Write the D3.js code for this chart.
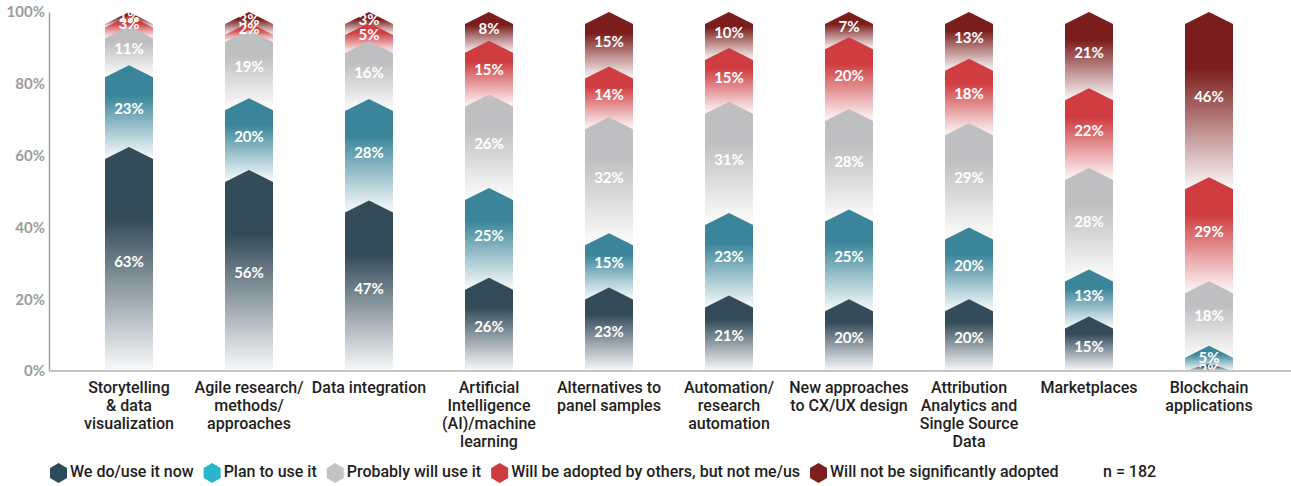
<!DOCTYPE html>
<html>
<head>
<meta charset="utf-8">
<script src="https://cdn.jsdelivr.net/npm/d3@7"></script>
<style>
  body { margin: 0; background: #fff; }
  svg { display: block; }
</style>
</head>
<body>
<div id="chart"></div>
<script>
// categories (line breaks as in the picture)
const categories = [
  'Storytelling\n& data\nvisualization',
  'Agile research/\nmethods/\napproaches',
  'Data integration',
  'Artificial\nIntelligence\n(AI)/machine\nlearning',
  'Alternatives to\npanel samples',
  'Automation/\nresearch\nautomation',
  'New approaches\nto CX/UX design',
  'Attribution\nAnalytics and\nSingle Source\nData',
  'Marketplaces',
  'Blockchain\napplications'
];

// series values (%)
const weDo = [63, 56, 47, 26, 23, 21, 20, 20, 15, 2];
const planTo = [23, 20, 28, 25, 15, 23, 25, 20, 13, 5];
const probably = [11, 19, 16, 26, 32, 31, 28, 29, 28, 18];
const byOthers = [3, 2, 5, 15, 14, 15, 20, 18, 22, 29];
const notAdopted = [1, 3, 3, 8, 15, 10, 7, 13, 21, 46];

const seriesNames = [
  'We do/use it now',
  'Plan to use it',
  'Probably will use it',
  'Will be adopted by others, but not me/us',
  'Will not be significantly adopted'
];
const yTicks = [0, 0.2, 0.4, 0.6, 0.8, 1];
const sampleNote = 'n = 182';

const barColors = ['#344b59', '#3a8599', '#bfbec0', '#cf3d40', '#7c1d1d'];
const legendColors = ['#2f4b5b', '#29b6cd', '#c3c3c5', '#cc3b3f', '#7d1f1f'];

const width = 1291, height = 486;
const notch = 12;

const keys = ['weDo', 'planTo', 'probably', 'byOthers', 'notAdopted'];
const columns = [weDo, planTo, probably, byOthers, notAdopted];
const rows = categories.map((c, i) => {
  const r = { cat: c };
  keys.forEach((k, j) => { r[k] = columns[j][i]; });
  return r;
});

const stacked = d3.stack().keys(keys).offset(d3.stackOffsetExpand)(rows);

const svg = d3.select('#chart').append('svg')
  .attr('width', width)
  .attr('height', height);

const x = d3.scaleBand()
  .domain(categories)
  .range([69, 1269])
  .paddingInner(0.6)
  .paddingOuter(0.3);

const y = d3.scaleLinear()
  .domain([0, 1])
  .range([371, 12]);

// gradients, strong colour at top fading to white at bottom
const defs = svg.append('defs');
keys.forEach((k, i) => {
  const g = defs.append('linearGradient')
    .attr('id', 'grad-' + k)
    .attr('x1', 0).attr('y1', 0).attr('x2', 0).attr('y2', 1);
  g.append('stop').attr('offset', 0).attr('stop-color', barColors[i]);
  g.append('stop').attr('offset', 0.32).attr('stop-color', barColors[i]);
  g.append('stop').attr('offset', 0.7).attr('stop-color', barColors[i]).attr('stop-opacity', 0.45);
  g.append('stop').attr('offset', 1).attr('stop-color', barColors[i]).attr('stop-opacity', 0.03);
});

// y axis
const yAxis = d3.axisLeft(y)
  .tickValues(yTicks)
  .tickFormat(d3.format('.0%'))
  .tickSize(0)
  .tickPadding(4);

const yg = svg.append('g')
  .attr('transform', 'translate(49,0)')
  .call(yAxis);
yg.select('.domain').attr('stroke', '#a0a0a0').attr('stroke-width', 1.5);
yg.selectAll('text')
  .attr('fill', '#9b9b9b')
  .attr('font-family', 'Lato, sans-serif')
  .attr('font-weight', 700)
  .attr('font-size', 15);

// bars, top series drawn first so lower chevrons sit over them
const segPath = (d, i) => {
  const x0 = x(d.data.cat), w = x.bandwidth();
  const yTop = y(d[1]);
  const yBot = i === 0 ? y(0) : Math.min(y(d[0]) + notch, y(0));
  const ySh = Math.min(yTop + notch, y(0));
  return `M${x0},${ySh}L${x0 + w / 2},${yTop}L${x0 + w},${ySh}L${x0 + w},${yBot}L${x0},${yBot}Z`;
};

const layers = svg.append('g').attr('class', 'bars');
stacked.slice().reverse().forEach(s => {
  const i = s.index;
  layers.append('g')
    .selectAll('path')
    .data(s)
    .enter()
    .append('path')
    .attr('d', d => segPath(d, i))
    .attr('fill', `url(#grad-${s.key})`);
});

// value labels
const lab = svg.append('g').attr('class', 'values');
stacked.forEach(s => {
  lab.append('g')
    .selectAll('text')
    .data(s)
    .enter()
    .append('text')
    .attr('x', d => x(d.data.cat) + x.bandwidth() / 2)
    .attr('y', d => (y(d[0]) + y(d[1])) / 2 + 4)
    .attr('text-anchor', 'middle')
    .attr('dominant-baseline', 'middle')
    .attr('fill', '#fff')
    .attr('font-family', 'Lato, sans-serif')
    .attr('font-weight', 700)
    .attr('font-size', 15)
    .text(d => d.data[s.key] + '%');
});

// baseline
svg.append('line')
  .attr('x1', 49).attr('x2', 1291)
  .attr('y1', y(0)).attr('y2', y(0))
  .attr('stroke', '#c4c4c4')
  .attr('stroke-width', 2);

// category labels
const catG = svg.append('g').attr('class', 'x-label');
categories.forEach(c => {
  const t = catG.append('text')
    .attr('x', x(c) + x.bandwidth() / 2)
    .attr('y', 393)
    .attr('text-anchor', 'middle')
    .attr('fill', '#1e1e1e')
    .attr('font-family', 'Roboto, sans-serif')
    .attr('font-weight', 500)
    .attr('font-size', 16);
  c.split('\n').forEach((line, j) => {
    t.append('tspan')
      .attr('x', x(c) + x.bandwidth() / 2)
      .attr('dy', j === 0 ? 0 : 18)
      .text(line);
  });
});

// legend
const legend = svg.append('g').attr('transform', 'translate(0,473)');
const hex = 'M0,-10L8.5,-5L8.5,5L0,10L-8.5,5L-8.5,-5Z';
let lx = 50;
seriesNames.forEach((name, i) => {
  legend.append('path')
    .attr('d', hex)
    .attr('transform', `translate(${lx + 8.5},0)`)
    .attr('fill', legendColors[i]);
  const t = legend.append('text')
    .attr('x', lx + 20)
    .attr('y', 0)
    .attr('dominant-baseline', 'middle')
    .attr('fill', '#1e1e1e')
    .attr('font-family', 'Roboto, sans-serif')
    .attr('font-weight', 500)
    .attr('font-size', 16)
    .text(name);
  lx += 20 + t.node().getComputedTextLength() + 10;
});
legend.append('text')
  .attr('x', 1103)
  .attr('y', 0)
  .attr('dominant-baseline', 'middle')
  .attr('fill', '#1e1e1e')
  .attr('font-family', 'Roboto, sans-serif')
  .attr('font-weight', 500)
  .attr('font-size', 16)
  .text(sampleNote);
</script>
</body>
</html>
